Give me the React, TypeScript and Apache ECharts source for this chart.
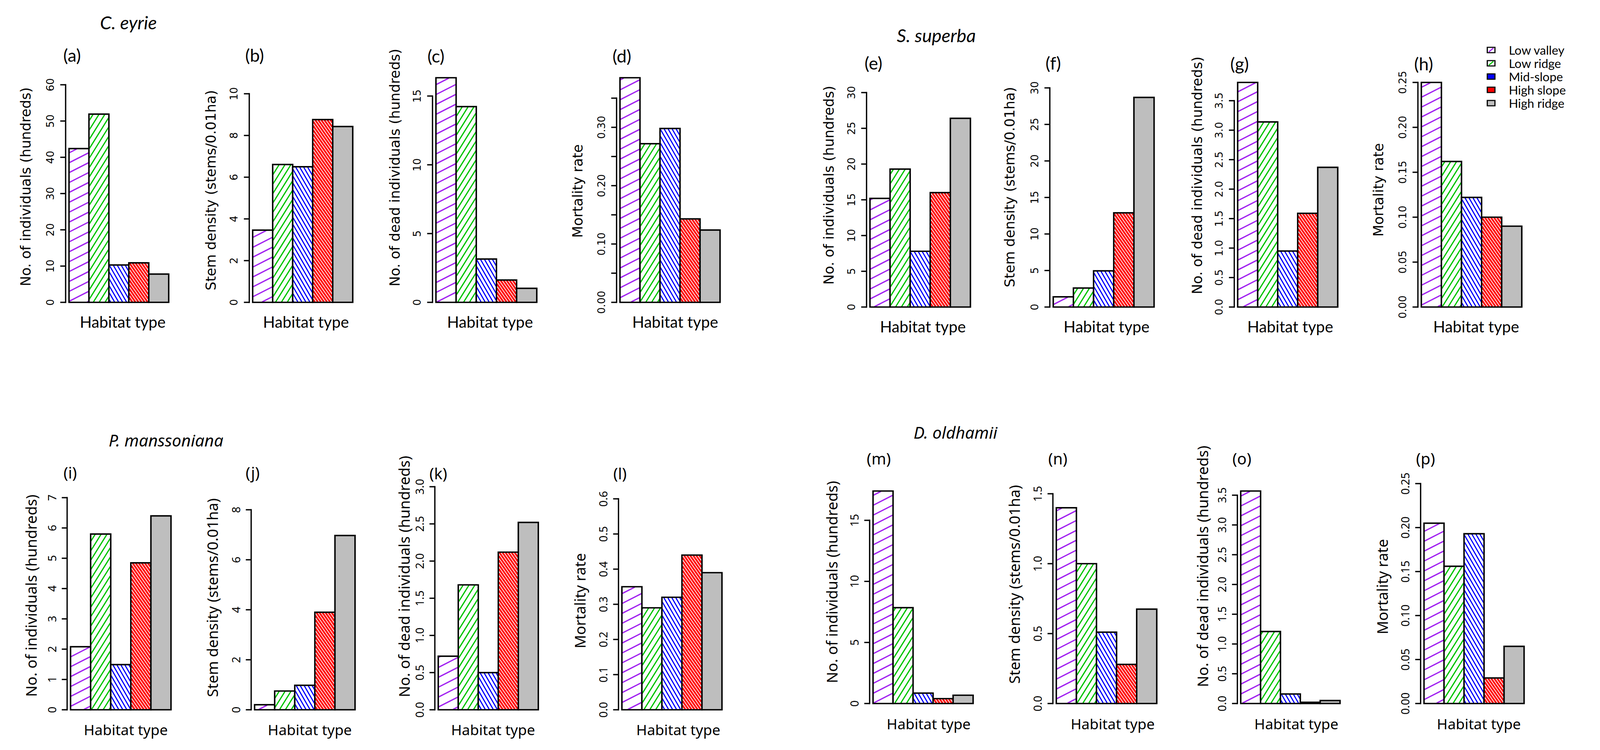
import React, { useEffect, useRef } from "react";
import * as echarts from "echarts";

// ---------------- data ----------------
const habitats = ["Low valley", "Low ridge", "Mid-slope", "High slope", "High ridge"];

const ceyrieIndividuals = [42.4, 51.9, 10.3, 10.9, 7.8];
const ceyrieDensity = [3.46, 6.61, 6.5, 8.76, 8.43];
const ceyrieDead = [16.33, 14.23, 3.15, 1.62, 1.02];
const ceyrieMortality = [0.385, 0.272, 0.298, 0.143, 0.124];

const ssuperbaIndividuals = [15.2, 19.3, 7.8, 16.0, 26.4];
const ssuperbaDensity = [1.4, 2.6, 4.95, 12.9, 28.7];
const ssuperbaDead = [3.81, 3.14, 0.95, 1.59, 2.37];
const ssuperbaMortality = [0.25, 0.162, 0.122, 0.1, 0.09];

const pmanIndividuals = [2.08, 5.8, 1.49, 4.85, 6.4];
const pmanDensity = [0.2, 0.75, 0.98, 3.9, 6.97];
const pmanDead = [0.72, 1.68, 0.5, 2.12, 2.52];
const pmanMortality = [0.35, 0.29, 0.32, 0.44, 0.39];

const doldIndividuals = [17.4, 7.85, 0.85, 0.4, 0.68];
const doldDensity = [1.4, 1.0, 0.51, 0.28, 0.675];
const doldDead = [3.57, 1.21, 0.16, 0.02, 0.05];
const doldMortality = [0.205, 0.156, 0.193, 0.029, 0.065];

// tick labels
const ticksA = ["0", "10", "20", "30", "40", "50", "60"];
const ticksB = ["0", "2", "4", "6", "8", "10"];
const ticksC = ["0", "5", "10", "15"];
const ticksD = ["0.00", "0.05", "0.10", "0.15", "0.20", "0.25", "0.30", "0.35"];
const hiddenD = ["0.05", "0.15", "0.25", "0.35"];
const ticksE = ["0", "5", "10", "15", "20", "25", "30"];
const ticksF = ["0", "5", "10", "15", "20", "25", "30"];
const ticksG = ["0.0", "0.5", "1.0", "1.5", "2.0", "2.5", "3.0", "3.5"];
const ticksH = ["0.00", "0.05", "0.10", "0.15", "0.20", "0.25"];
const ticksI = ["0", "1", "2", "3", "4", "5", "6", "7"];
const ticksJ = ["0", "2", "4", "6", "8"];
const ticksK = ["0.0", "0.5", "1.0", "1.5", "2.0", "2.5", "3.0"];
const ticksL = ["0.0", "0.1", "0.2", "0.3", "0.4", "0.5", "0.6"];
const ticksM = ["0", "5", "10", "15"];
const ticksN = ["0.0", "0.5", "1.0", "1.5"];
const ticksO = ["0.0", "0.5", "1.0", "1.5", "2.0", "2.5", "3.0", "3.5"];
const ticksP = ["0.00", "0.05", "0.10", "0.15", "0.20", "0.25"];

const speciesTitles = ["C. eyrie", "S. superba", "P. manssoniana", "D. oldhamii"];
const yLabIndiv = "No. of individuals (hundreds)";
const yLabDens = "Stem density (stems/0.01ha)";
const yLabDead = "No. of dead individuals (hundreds)";
const yLabMort = "Mortality rate";
const xLab = "Habitat type";

// ---------------- styles / layout (reference is 4173 x 1920) ----------------
const REF_W = 4173;
const REF_H = 1920;
const hatch = [
  { color: "#A020F0", angle: 27, spacing: 23, width: 3.3 },
  { color: "#00C400", angle: 58, spacing: 13, width: 3.2 },
  { color: "#0000FF", angle: -60, spacing: 9, width: 3.0 },
  { color: "#FF0000", angle: -55, spacing: 6.5, width: 4.6 },
  null,
];
const GRAY = "#BEBEBE";
const X_MIN = -0.17;
const X_MAX = 5.17;

const rowFonts = [
  {
    tick: { size: 27, family: "'DejaVu Sans'", style: "" },
    ylab: { size: 36, family: "'DejaVu Sans'", style: "" },
    letter: { size: 46, family: "Lato", style: "" },
    xlab: { size: 41, family: "Lato", style: "" },
    title: { size: 48, family: "Lato", style: "italic " },
  },
  {
    tick: { size: 29, family: "'Noto Sans'", style: "" },
    ylab: { size: 39, family: "'Noto Sans'", style: "" },
    letter: { size: 41, family: "'Noto Sans'", style: "" },
    xlab: { size: 38, family: "'Noto Sans'", style: "" },
    title: { size: 43, family: "'Noto Sans'", style: "italic " },
  },
];

const panels = [
  { key: "a", row: 0, values: ceyrieIndividuals, ticks: ticksA, hidden: [], barsL: 180, barsR: 440, base: 774, top: 217, ylab: yLabIndiv, ylx: 67, yly: 478, hx: 320, hy: 823, lx: 188, ly: 140 },
  { key: "b", row: 0, values: ceyrieDensity, ticks: ticksB, hidden: [], barsL: 659, barsR: 920, base: 774, top: 240, ylab: yLabDens, ylx: 550, yly: 487, hx: 798, hy: 823, lx: 664, ly: 140 },
  { key: "c", row: 0, values: ceyrieDead, ticks: ticksC, hidden: [], barsL: 1137, barsR: 1400, base: 774, top: 199, ylab: yLabDead, ylx: 1030, yly: 429, hx: 1278, hy: 823, lx: 1137, ly: 142 },
  { key: "d", row: 0, values: ceyrieMortality, ticks: ticksD, hidden: hiddenD, barsL: 1617, barsR: 1878, base: 774, top: 199, ylab: yLabMort, ylx: 1506, yly: 489, hx: 1761, hy: 823, lx: 1622, ly: 142 },
  { key: "e", row: 0, values: ssuperbaIndividuals, ticks: ticksE, hidden: [], barsL: 2269, barsR: 2531, base: 786, top: 237, ylab: yLabIndiv, ylx: 2161, yly: 474, hx: 2407, hy: 835, lx: 2278, ly: 160 },
  { key: "f", row: 0, values: ssuperbaDensity, ticks: ticksF, hidden: [], barsL: 2747, barsR: 3010, base: 786, top: 225, ylab: yLabDens, ylx: 2633, yly: 479, hx: 2886, hy: 835, lx: 2747, ly: 160 },
  { key: "g", row: 0, values: ssuperbaDead, ticks: ticksG, hidden: [], barsL: 3228, barsR: 3489, base: 786, top: 211, ylab: yLabDead, ylx: 3122, yly: 449, hx: 3365, hy: 835, lx: 3233, ly: 162 },
  { key: "h", row: 0, values: ssuperbaMortality, ticks: ticksH, hidden: [], barsL: 3707, barsR: 3969, base: 786, top: 211, ylab: yLabMort, ylx: 3595, yly: 486, hx: 3850, hy: 835, lx: 3713, ly: 162 },
  { key: "i", row: 1, values: pmanIndividuals, ticks: ticksI, hidden: [], barsL: 184, barsR: 446, base: 1817, top: 1274, ylab: yLabIndiv, ylx: 80, yly: 1525, hx: 328, hy: 1867, lx: 183, ly: 1209 },
  { key: "j", row: 1, values: pmanDensity, ticks: ticksJ, hidden: [], barsL: 664, barsR: 926, base: 1817, top: 1305, ylab: yLabDens, ylx: 553, yly: 1530, hx: 808, hy: 1867, lx: 659, ly: 1209 },
  { key: "k", row: 1, values: pmanDead, ticks: ticksK, hidden: [], barsL: 1143, barsR: 1404, base: 1817, top: 1246, ylab: yLabDead, ylx: 1053, yly: 1476, hx: 1286, hy: 1867, lx: 1143, ly: 1211 },
  { key: "l", row: 1, values: pmanMortality, ticks: ticksL, hidden: [], barsL: 1622, barsR: 1883, base: 1817, top: 1277, ylab: yLabMort, ylx: 1512, yly: 1538, hx: 1769, hy: 1867, lx: 1617, ly: 1211 },
  { key: "m", row: 1, values: doldIndividuals, ticks: ticksM, hidden: [], barsL: 2277, barsR: 2538, base: 1801, top: 1257, ylab: yLabIndiv, ylx: 2169, yly: 1490, hx: 2422, hy: 1852, lx: 2292, ly: 1173 },
  { key: "n", row: 1, values: doldDensity, ticks: ticksN, hidden: [], barsL: 2755, barsR: 3017, base: 1801, top: 1264, ylab: yLabDens, ylx: 2645, yly: 1496, hx: 2902, hy: 1852, lx: 2759, ly: 1173 },
  { key: "o", row: 1, values: doldDead, ticks: ticksO, hidden: [], barsL: 3236, barsR: 3495, base: 1801, top: 1257, ylab: yLabDead, ylx: 3136, yly: 1450, hx: 3381, hy: 1852, lx: 3239, ly: 1173 },
  { key: "p", row: 1, values: doldMortality, ticks: ticksP, hidden: [], barsL: 3714, barsR: 3975, base: 1801, top: 1238, ylab: yLabMort, ylx: 3605, yly: 1502, hx: 3857, hy: 1852, lx: 3718, ly: 1173 },
];

const titlePos = [
  { x: 335, y: 57, row: 0 },
  { x: 2442, y: 90, row: 0 },
  { x: 433, y: 1126, row: 1 },
  { x: 2492, y: 1106, row: 1 },
];

const legendLayout = { boxX: 3879, boxW: 20, boxH: 14, textX: 3935, rows: [128, 162, 196, 230, 264], font: { size: 32, family: "Lato", style: "" } };

function hatchLines(x0: number, y0: number, x1: number, y1: number, angleDeg: number, spacing: number) {
  const th = (angleDeg * Math.PI) / 180;
  const dx = Math.cos(th), dy = -Math.sin(th);
  const nx = Math.sin(th), ny = Math.cos(th);
  const cs = [x0 * nx + y0 * ny, x1 * nx + y0 * ny, x0 * nx + y1 * ny, x1 * nx + y1 * ny];
  const cmin = Math.min(...cs), cmax = Math.max(...cs);
  const out: number[][] = [];
  for (let c = Math.ceil(cmin / spacing) * spacing; c <= cmax; c += spacing) {
    const px = nx * c, py = ny * c;
    let tmin = -1e9, tmax = 1e9;
    const clip = (p: number, d: number, lo: number, hi: number) => {
      if (Math.abs(d) < 1e-9) {
        if (p < lo || p > hi) { tmin = 1; tmax = 0; }
        return;
      }
      let a = (lo - p) / d, b = (hi - p) / d;
      if (a > b) { const t = a; a = b; b = t; }
      tmin = Math.max(tmin, a);
      tmax = Math.min(tmax, b);
    };
    clip(px, dx, x0, x1);
    clip(py, dy, y0, y1);
    if (tmax - tmin > 0.5) {
      out.push([px + tmin * dx, py + tmin * dy, px + tmax * dx, py + tmax * dy]);
    }
  }
  return out;
}

function buildOption(W: number, H: number) {
  const sx = W / REF_W;
  const sy = H / REF_H;
  const s = Math.min(sx, sy);
  const X = (v: number) => v * sx;
  const Y = (v: number) => v * sy;
  const F = (f: { size: number; family: string; style: string }) => `${f.style}${(f.size * s).toFixed(1)}px ${f.family}`;

  const textEl = (x: number, y: number, text: string, font: string, rotation = 0, align = "center") => ({
    type: "text",
    x,
    y,
    rotation,
    silent: true,
    style: { text, font, fill: "#000", align, verticalAlign: "middle", textAlign: align, textVerticalAlign: "middle" },
  });

  const grid: any[] = [];
  const xAxis: any[] = [];
  const yAxis: any[] = [];
  const series: any[] = [];
  const graphic: any[] = [];
  const lw = 3.8 * s;

  panels.forEach((p, k) => {
    const u = (p.barsR - p.barsL) / 5;
    const tickVals = p.ticks.map((t) => parseFloat(t));
    const tickMax = tickVals[tickVals.length - 1];
    const yMax = Math.max(tickMax, Math.max(...p.values));
    const fonts = rowFonts[p.row];
    grid.push({ left: X(p.barsL + X_MIN * u), top: Y(p.top), width: X((X_MAX - X_MIN) * u), height: Y(p.base - p.top), containLabel: false });
    xAxis.push({ type: "value", gridIndex: k, min: X_MIN, max: X_MAX, show: false });
    yAxis.push({ type: "value", gridIndex: k, min: 0, max: yMax, show: false });

    series.push({
      type: "custom",
      name: "bars-" + p.key,
      xAxisIndex: k,
      yAxisIndex: k,
      clip: false,
      silent: true,
      data: p.values.map((v, i) => [i, v]),
      encode: { x: 0, y: 1 },
      renderItem: (params: any, api: any) => {
        const i = api.value(0);
        const v = api.value(1);
        const b = api.coord([i, 0]);
        const t = api.coord([i + 1, v]);
        const x0 = b[0], x1 = t[0], yb = b[1], yt = t[1];
        const h = hatch[i];
        const children: any[] = [];
        children.push({ type: "rect", shape: { x: x0, y: yt, width: x1 - x0, height: yb - yt }, style: { fill: h ? "#fff" : GRAY } });
        if (h) {
          hatchLines(x0 + 1, yt + 1, x1 - 1, yb - 1, h.angle, h.spacing * s).forEach((sg) => {
            children.push({ type: "line", shape: { x1: sg[0], y1: sg[1], x2: sg[2], y2: sg[3] }, style: { stroke: h.color, lineWidth: h.width * s } });
          });
        }
        children.push({ type: "rect", shape: { x: x0, y: yt, width: x1 - x0, height: yb - yt }, style: { fill: "none", stroke: "#000", lineWidth: lw } });
        return { type: "group", children };
      },
    });

    series.push({
      type: "custom",
      name: "axis-" + p.key,
      xAxisIndex: k,
      yAxisIndex: k,
      clip: false,
      silent: true,
      data: tickVals.map((v) => [X_MIN, v]),
      encode: { x: 0, y: 1 },
      renderItem: (params: any, api: any) => {
        const idx = params.dataIndex;
        const v = api.value(1);
        const pt = api.coord([X_MIN, v]);
        const label = p.ticks[idx];
        const ch: any[] = [];
        ch.push({ type: "line", shape: { x1: pt[0], y1: pt[1], x2: pt[0] - 14 * sx, y2: pt[1] }, style: { stroke: "#000", lineWidth: 3.4 * s } });
        if (p.hidden.indexOf(label) < 0) {
          ch.push(textEl(pt[0] - 40 * sx, pt[1], label, F(fonts.tick), Math.PI / 2));
        }
        if (idx === 0) {
          const q = api.coord([X_MIN, tickMax]);
          ch.push({ type: "line", shape: { x1: pt[0], y1: pt[1] + 1.7 * s, x2: q[0], y2: q[1] - 1.7 * s }, style: { stroke: "#000", lineWidth: 3.4 * s } });
        }
        return { type: "group", children: ch };
      },
    });

    graphic.push(textEl(X(p.ylx), Y(p.yly), p.ylab, F(fonts.ylab), Math.PI / 2));
    graphic.push(textEl(X(p.hx), Y(p.hy), xLab, F(fonts.xlab)));
    graphic.push(textEl(X(p.lx), Y(p.ly), "(" + p.key + ")", F(fonts.letter)));
  });

  speciesTitles.forEach((t, i) => {
    const tp = titlePos[i];
    graphic.push(textEl(X(tp.x), Y(tp.y), t, F(rowFonts[tp.row].title)));
  });

  // legend
  const L = legendLayout;
  habitats.forEach((name, i) => {
    const y = Y(L.rows[i]);
    const h = hatch[i];
    const solid = i === 2 ? "#0000FF" : i === 3 ? "#FF0000" : i === 4 ? GRAY : "#fff";
    const bx = X(L.boxX), bw = L.boxW * s, bh = L.boxH * s;
    graphic.push({ type: "rect", silent: true, shape: { x: bx, y: y - bh / 2, width: bw, height: bh }, style: { fill: solid } });
    if (h && i < 2) {
      graphic.push({ type: "line", silent: true, shape: { x1: bx + 4 * s, y1: y + 5 * s, x2: bx + bw - 4 * s, y2: y - 5 * s }, style: { stroke: h.color, lineWidth: 3 * s } });
    }
    graphic.push({ type: "rect", silent: true, shape: { x: bx, y: y - bh / 2, width: bw, height: bh }, style: { fill: "none", stroke: "#000", lineWidth: 3 * s } });
    graphic.push(textEl(X(L.textX), y, name, F(L.font), 0, "left"));
  });

  return {
    animation: false,
    backgroundColor: "#ffffff",
    grid,
    xAxis,
    yAxis,
    series,
    graphic: { elements: graphic },
  };
}

export default function App() {
  const ref = useRef<HTMLDivElement>(null);
  useEffect(() => {
    const el = ref.current;
    if (!el) return;
    const W = el.clientWidth || REF_W;
    const H = el.clientHeight || REF_H;
    const chart = echarts.init(el, undefined, { renderer: "svg", width: W, height: H });
    chart.setOption(buildOption(W, H) as any);
    return () => chart.dispose();
  }, []);
  return (
    <div
      ref={ref}
      style={{ position: "absolute", left: 0, top: 0, width: "100vw", height: "100vh", overflow: "hidden", background: "#fff" }}
    />
  );
}
